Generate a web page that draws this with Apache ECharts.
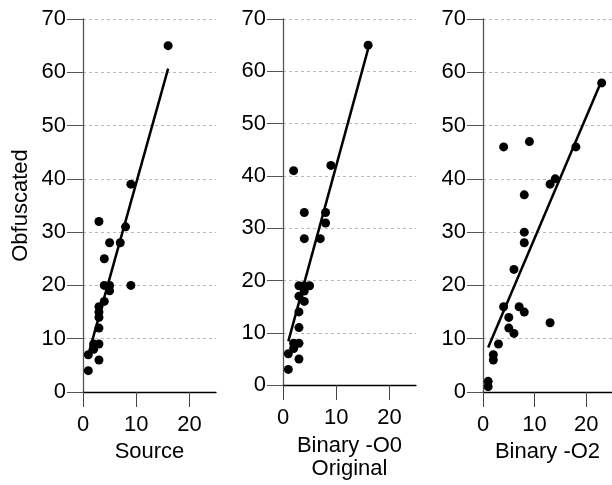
<!DOCTYPE html>
<html>
<head>
<meta charset="utf-8">
<script src="https://cdn.jsdelivr.net/npm/echarts@6/dist/echarts.min.js"></script>
<style>html,body{margin:0;padding:0;background:#fff}#c{width:612px;height:485px}</style>
</head>
<body>
<div id="c"></div>
<script>
const panelNames = ['Source', 'Binary -O0\nOriginal', 'Binary -O2'];
const yTicks = [0, 10, 20, 30, 40, 50, 60, 70];
const xTicks = [0, 10, 20];

const sourceX = [16, 9, 3, 8, 5, 7, 4, 4, 5, 9, 5, 4, 3, 3, 3, 3, 2, 3, 2, 1, 3, 1];
const sourceY = [65, 39, 32, 31, 28, 28, 25, 20, 20, 20, 19, 17, 16, 15, 14, 12, 9, 9, 8, 7, 6, 4];

const o0X = [16, 9, 2, 4, 8, 8, 4, 7, 3, 4, 5, 4, 3, 4, 3, 3, 2, 3, 2, 1, 3, 1];
const o0Y = [65, 42, 41, 33, 33, 31, 28, 28, 19, 19, 19, 18, 17, 16, 14, 11, 8, 8, 7, 6, 5, 3];

const o2X = [23, 4, 9, 18, 13, 14, 8, 8, 8, 6, 4, 7, 8, 5, 5, 6, 13, 3, 2, 2, 1, 1];
const o2Y = [58, 46, 47, 46, 39, 40, 37, 30, 28, 23, 16, 16, 15, 14, 12, 11, 13, 9, 7, 6, 2, 1];

const panels = [[sourceX, sourceY], [o0X, o0Y], [o2X, o2Y]];

function fit(xs, ys) {
  const n = xs.length;
  const mx = xs.reduce((a, b) => a + b, 0) / n;
  const my = ys.reduce((a, b) => a + b, 0) / n;
  let sxy = 0, sxx = 0;
  for (let i = 0; i < n; i++) { sxy += (xs[i] - mx) * (ys[i] - my); sxx += (xs[i] - mx) ** 2; }
  const b = sxy / sxx, a = my - b * mx;
  const x0 = Math.min(...xs), x1 = Math.max(...xs);
  return [[x0, a + b * x0], [x1, a + b * x1]];
}

const FONT = 'Liberation Sans, Arial, Helvetica, sans-serif';
const FS = 22;
const lefts = [83, 283, 483];
const grids = [], xAxes = [], yAxes = [], series = [];
panels.forEach((p, i) => {
  grids.push({ left: lefts[i], top: 19, width: 133, height: 373, containLabel: false });
  xAxes.push({
    type: 'value', gridIndex: i, min: 0, max: 25,
    name: panelNames[i], nameLocation: 'middle', nameGap: 47,
    nameTextStyle: { fontFamily: FONT, fontSize: FS, color: '#000', lineHeight: 23 },
    axisLine: { show: true, onZero: false, lineStyle: { color: '#000', width: 1.3 } },
    axisTick: { show: true, length: 15, customValues: xTicks, lineStyle: { color: '#444', width: 1 } },
    axisLabel: { customValues: xTicks, margin: 22, fontFamily: FONT, fontSize: FS, color: '#000' },
    splitLine: { show: false }
  });
  yAxes.push({
    type: 'value', gridIndex: i, min: 0, max: 70, interval: 10,
    name: i === 0 ? 'Obfuscated' : '', nameLocation: 'middle', nameGap: 51, nameRotate: 90,
    nameTextStyle: { fontFamily: FONT, fontSize: FS, color: '#000' },
    axisLine: { show: true, onZero: false, lineStyle: { color: '#555', width: 1.3 } },
    axisTick: { show: true, length: 16, lineStyle: { color: '#555', width: 1 } },
    axisLabel: { margin: 17, fontFamily: FONT, fontSize: FS, color: '#000' },
    splitLine: { show: true, lineStyle: { color: '#bbb', type: [3, 3], width: 1 } }
  });
  series.push({
    type: 'scatter', xAxisIndex: i, yAxisIndex: i, symbolSize: 9,
    itemStyle: { color: '#000', opacity: 1 }, data: p[0].map((x, k) => [x, p[1][k]]), z: 3
  });
  series.push({
    type: 'line', xAxisIndex: i, yAxisIndex: i, symbol: 'none',
    lineStyle: { color: '#000', width: 2.5 }, data: fit(p[0], p[1]), z: 4
  });
});

const chart = echarts.init(document.getElementById('c'), null, { renderer: 'canvas' });
chart.setOption({
  animation: false,
  backgroundColor: '#fff',
  grid: grids, xAxis: xAxes, yAxis: yAxes, series: series
});
</script>
</body>
</html>
